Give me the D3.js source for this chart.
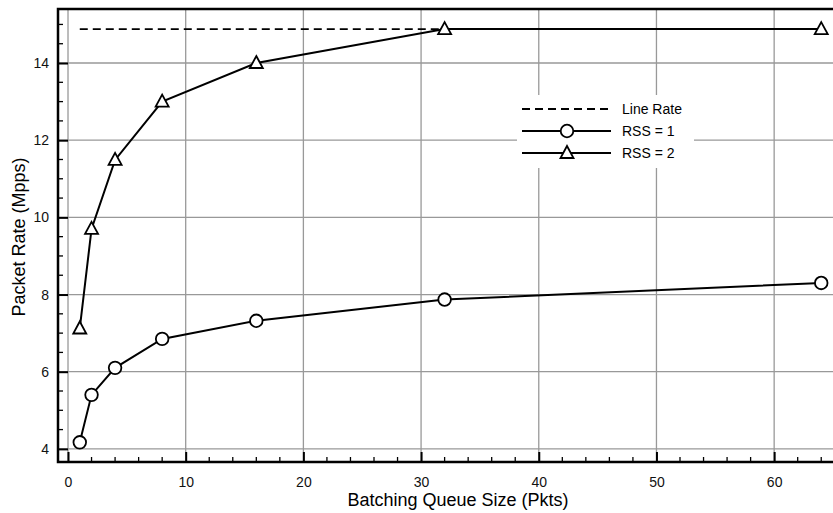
<!DOCTYPE html>
<html>
<head>
<meta charset="utf-8">
<title>packet rate</title>
<style>
  body { margin: 0; background: white; }
  svg { display: block; font-family: "Liberation Sans", Arial, sans-serif; }
  .grid line { stroke: #999; stroke-width: 1.3; }
</style>
<script src="https://cdn.jsdelivr.net/npm/d3@7"></script>
</head>
<body>
<svg id="chart" width="833" height="513"></svg>
<script>
// batching queue sizes (pkts)
var queueSizes = [1, 2, 4, 8, 16, 32, 64];
// packet rate in Mpps
var rss1 = [4.17, 5.4, 6.1, 6.85, 7.32, 7.87, 8.3];
var rss2 = [7.12, 9.7, 11.49, 13.0, 14.0, 14.88, 14.88];
var lineRate = 14.88;
var xTicks = [0, 10, 20, 30, 40, 50, 60];
var yTicks = [4, 6, 8, 10, 12, 14];
var legendLabels = ["Line Rate", "RSS = 1", "RSS = 2"];

var svg = d3.select("#chart");
var pLeft = 58, pRight = 833, pTop = 9, pBottom = 462;

var x = d3.scaleLinear().domain([-0.85, 65]).range([pLeft, pRight]);
var y = d3.scaleLinear().domain([3.66, 15.4]).range([pBottom, pTop]);

// grid
var grid = svg.append("g").attr("class", "grid");
grid.selectAll(".vx").data(xTicks).enter().append("line")
  .attr("x1", d => x(d)).attr("x2", d => x(d))
  .attr("y1", pTop).attr("y2", pBottom);
grid.selectAll(".hy").data(yTicks).enter().append("line")
  .attr("x1", pLeft).attr("x2", pRight)
  .attr("y1", d => y(d)).attr("y2", d => y(d));

// axes with inward ticks
var xMinor = d3.range(0, 66, 2).filter(d => d % 10 !== 0);
var yMinor = d3.range(4, 15.3, 0.5).filter(d => d % 2 !== 0);

var gx = svg.append("g").attr("transform", "translate(0," + pBottom + ")")
  .call(d3.axisBottom(x).tickValues(xTicks).tickSize(-10).tickPadding(15));
gx.select(".domain").remove();
gx.selectAll(".tick line").attr("stroke", "#000").attr("stroke-width", 2);
gx.selectAll(".tick text").attr("font-size", 14).attr("fill", "#111").attr("font-family", null);
gx.selectAll(".xm").data(xMinor).enter().append("line")
  .attr("x1", d => x(d)).attr("x2", d => x(d))
  .attr("y1", 0).attr("y2", -5).attr("stroke", "#000").attr("stroke-width", 1.3);

var gy = svg.append("g").attr("transform", "translate(" + pLeft + ",0)")
  .call(d3.axisLeft(y).tickValues(yTicks).tickSize(-10).tickPadding(9));
gy.select(".domain").remove();
gy.selectAll(".tick line").attr("stroke", "#000").attr("stroke-width", 2);
gy.selectAll(".tick text").attr("font-size", 14).attr("fill", "#111");
gy.selectAll(".ym").data(yMinor).enter().append("line")
  .attr("x1", 0).attr("x2", 5)
  .attr("y1", d => y(d)).attr("y2", d => y(d)).attr("stroke", "#000").attr("stroke-width", 1.3);
gx.attr("font-family", null);
gy.attr("font-family", null);

// frame (left, top, bottom)
svg.append("path")
  .attr("d", "M" + pRight + "," + pTop + "H" + pLeft + "V" + pBottom + "H" + pRight)
  .attr("fill", "none").attr("stroke", "#000").attr("stroke-width", 2.5);

// line rate
svg.append("line")
  .attr("x1", x(1)).attr("x2", x(64))
  .attr("y1", y(lineRate)).attr("y2", y(lineRate))
  .attr("stroke", "#000").attr("stroke-width", 1.8).attr("stroke-dasharray", "8,5");

var line = d3.line().x((d, i) => x(queueSizes[i])).y(d => y(d));

function tri(cx, cy) {
  return "M" + cx + "," + (cy - 7) + "L" + (cx + 6.5) + "," + (cy + 5) + "L" + (cx - 6.5) + "," + (cy + 5) + "Z";
}

[rss1, rss2].forEach(function (s, k) {
  svg.append("path").datum(s).attr("d", line)
    .attr("fill", "none").attr("stroke", "#000").attr("stroke-width", 2);
  if (k === 0) {
    svg.selectAll(".c").data(s).enter().append("circle")
      .attr("cx", (d, i) => x(queueSizes[i])).attr("cy", d => y(d)).attr("r", 6.3)
      .attr("fill", "#fff").attr("stroke", "#000").attr("stroke-width", 1.8);
  } else {
    svg.selectAll(".t").data(s).enter().append("path")
      .attr("d", (d, i) => tri(x(queueSizes[i]), y(d)))
      .attr("fill", "#fff").attr("stroke", "#000").attr("stroke-width", 1.8);
  }
});

// legend
var lg = svg.append("g");
lg.append("rect").attr("x", 517).attr("y", 95).attr("width", 177).attr("height", 73).attr("fill", "#fff");
var rowsY = [109, 131, 153];
legendLabels.forEach(function (lab, i) {
  var ly = rowsY[i];
  var ln = lg.append("line").attr("x1", 522).attr("x2", 611).attr("y1", ly).attr("y2", ly)
    .attr("stroke", "#000").attr("stroke-width", i === 0 ? 1.8 : 2);
  if (i === 0) ln.attr("stroke-dasharray", "8,5");
  if (i === 1) lg.append("circle").attr("cx", 567).attr("cy", ly).attr("r", 6.3)
    .attr("fill", "#fff").attr("stroke", "#000").attr("stroke-width", 1.8);
  if (i === 2) lg.append("path").attr("d", tri(567, ly))
    .attr("fill", "#fff").attr("stroke", "#000").attr("stroke-width", 1.8);
  lg.append("text").attr("x", 622).attr("y", ly + 5).attr("font-size", 14).text(lab);
});

// titles
svg.append("text").attr("x", 458).attr("y", 506).attr("text-anchor", "middle")
  .attr("font-size", 18).text("Batching Queue Size (Pkts)");
svg.append("text").attr("transform", "translate(25,237) rotate(-90)").attr("text-anchor", "middle")
  .attr("font-size", 18).text("Packet Rate (Mpps)");
</script>
</body>
</html>
